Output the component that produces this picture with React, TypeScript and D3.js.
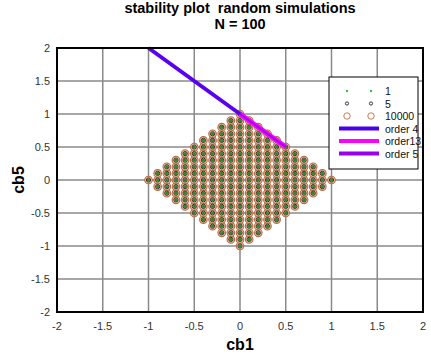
import React, { useRef, useEffect } from 'react';
import * as d3 from 'd3';

// tick values for both axes
const xTicks = [-2, -1.5, -1, -0.5, 0, 0.5, 1, 1.5, 2];
const yTicks = [-2, -1.5, -1, -0.5, 0, 0.5, 1, 1.5, 2];

// simulation grid coordinates (step 0.1)
const gridSteps = [-10, -9, -8, -7, -6, -5, -4, -3, -2, -1, 0, 1, 2, 3, 4, 5, 6, 7, 8, 9, 10];

// stability boundary lines
const order4 = [[-1, 2], [0, 1]];
const order13 = [[0, 1], [0.5, 0.5]];
const order5 = [[0, 1], [0.5, 0.5]];

const legendNames = ['1', '5', '10000', 'order 4', 'order13', 'order 5'];

const App = () => {
  const ref = useRef<SVGSVGElement>(null);

  const W = 431, H = 354;
  const margin = { top: 48, right: 8, bottom: 42, left: 57 };
  const width = W - margin.left - margin.right;
  const height = H - margin.top - margin.bottom;

  useEffect(() => {
    const svg = d3.select(ref.current);
    svg.selectAll('*').remove();

    const x = d3.scaleLinear().domain([-2, 2]).range([0, width]);
    const y = d3.scaleLinear().domain([-2, 2]).range([height, 0]);

    const g = svg.append('g')
      .attr('transform', 'translate(' + margin.left + ',' + margin.top + ')');

    // grid
    g.selectAll('.vg').data(xTicks).enter().append('line')
      .attr('x1', d => x(d)).attr('x2', d => x(d))
      .attr('y1', 0).attr('y2', height)
      .attr('stroke', '#8a8a8a').attr('stroke-width', 1.5);
    g.selectAll('.hg').data(yTicks).enter().append('line')
      .attr('y1', d => y(d)).attr('y2', d => y(d))
      .attr('x1', 0).attr('x2', width)
      .attr('stroke', '#8a8a8a').attr('stroke-width', 1.5);

    // points: |x|+|y| <= 1
    const pts: [number, number][] = [];
    gridSteps.forEach(i => gridSteps.forEach(j => {
      if (Math.abs(i) + Math.abs(j) <= 10) pts.push([i / 10, j / 10]);
    }));

    g.selectAll('.p3').data(pts).enter().append('circle')
      .attr('cx', d => x(d[0])).attr('cy', d => y(d[1])).attr('r', 3.8)
      .attr('fill', '#e9bca2').attr('stroke', '#b86c46').attr('stroke-width', 1.1);
    g.selectAll('.p2').data(pts).enter().append('circle')
      .attr('cx', d => x(d[0])).attr('cy', d => y(d[1])).attr('r', 2.1)
      .attr('fill', 'none').attr('stroke', '#222').attr('stroke-width', 0.9);
    g.selectAll('.p1').data(pts).enter().append('circle')
      .attr('cx', d => x(d[0])).attr('cy', d => y(d[1])).attr('r', 1.6)
      .attr('fill', '#2a8a2a');

    const line = d3.line<number[]>().x(d => x(d[0])).y(d => y(d[1]));
    g.append('path').attr('d', line(order4)).attr('stroke', '#5a00f0')
      .attr('stroke-width', 4).attr('fill', 'none');
    g.append('path').attr('d', line(order13)).attr('stroke', '#ff00ff')
      .attr('stroke-width', 5).attr('fill', 'none');
    g.append('path').attr('d', line(order5)).attr('stroke', '#9a00f0')
      .attr('stroke-width', 2).attr('fill', 'none');

    // frame
    g.append('rect').attr('width', width).attr('height', height)
      .attr('fill', 'none').attr('stroke', '#000').attr('stroke-width', 2);

    // tick labels
    g.selectAll('.xt').data(xTicks).enter().append('text')
      .attr('x', d => x(d)).attr('y', height + 18)
      .attr('text-anchor', 'middle').attr('font-size', 11).attr('fill', '#333')
      .text(d => String(d));
    g.selectAll('.yt').data(yTicks).enter().append('text')
      .attr('x', -7).attr('y', d => y(d) + 4)
      .attr('text-anchor', 'end').attr('font-size', 11).attr('fill', '#333')
      .text(d => String(d));

    // axis titles
    svg.append('text').attr('x', margin.left + x(0)).attr('y', H - 4)
      .attr('text-anchor', 'middle').attr('font-size', 16).attr('font-weight', 'bold')
      .text('cb1');
    svg.append('text').attr('transform', 'translate(24,' + (margin.top + y(0)) + ') rotate(-90)')
      .attr('text-anchor', 'middle').attr('font-size', 16).attr('font-weight', 'bold')
      .text('cb5');

    // title
    svg.append('text').attr('x', margin.left + x(0)).attr('y', 13)
      .attr('text-anchor', 'middle').attr('font-size', 14.5).attr('font-weight', 'bold')
      .style('white-space', 'pre')
      .text('stability plot  random simulations');
    svg.append('text').attr('x', margin.left + x(0)).attr('y', 29)
      .attr('text-anchor', 'middle').attr('font-size', 14.5).attr('font-weight', 'bold')
      .text('N = 100');

    // legend
    const lg = svg.append('g').attr('transform', 'translate(329,77)');
    lg.append('rect').attr('width', 89).attr('height', 92)
      .attr('fill', '#fff').attr('stroke', '#000').attr('stroke-width', 1);
    legendNames.forEach((name, i) => {
      const cy = 14 + i * 12.5;
      if (i === 0) {
        [18, 42].forEach(cx => lg.append('circle').attr('cx', cx).attr('cy', cy).attr('r', 1.2).attr('fill', '#2ec82e'));
      } else if (i === 1) {
        [18, 42].forEach(cx => lg.append('circle').attr('cx', cx).attr('cy', cy).attr('r', 1.6)
          .attr('fill', 'none').attr('stroke', '#222').attr('stroke-width', 0.9));
      } else if (i === 2) {
        [18, 42].forEach(cx => lg.append('circle').attr('cx', cx).attr('cy', cy).attr('r', 3.2)
          .attr('fill', 'none').attr('stroke', '#c87a52').attr('stroke-width', 1));
      } else {
        const col = i === 3 ? '#4a00ee' : i === 4 ? '#ff00ff' : '#9a00f0';
        lg.append('line').attr('x1', 10).attr('x2', 50).attr('y1', cy).attr('y2', cy)
          .attr('stroke', col).attr('stroke-width', 4);
      }
      lg.append('text').attr('x', 56).attr('y', cy + 4).attr('font-size', 10.5).attr('fill', '#111')
        .text(name);
    });
  });

  return (
    <svg ref={ref} width={W} height={H}
      style={{ position: 'absolute', left: 0, top: 0, fontFamily: '"Liberation Sans", Arial, sans-serif', background: '#fff' }} />
  );
};

export default App;
